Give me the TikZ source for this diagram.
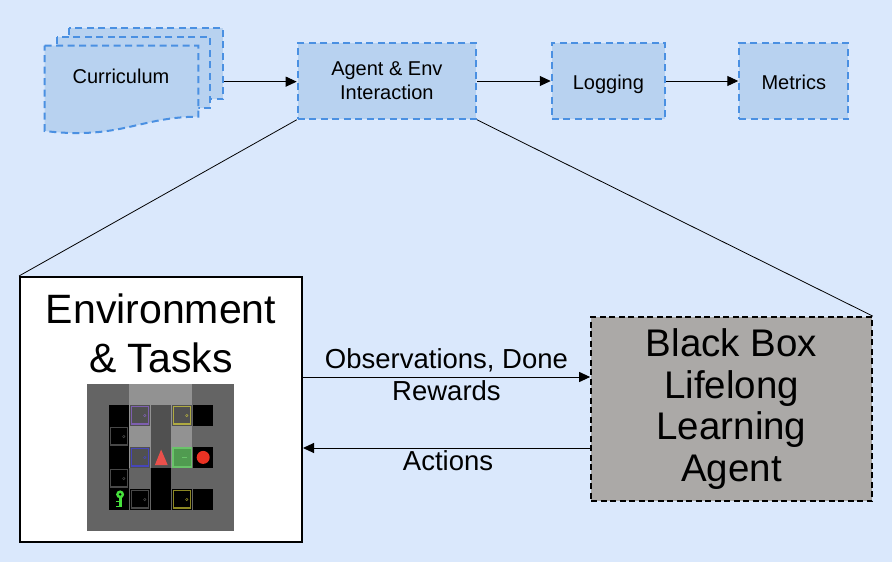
\documentclass[tikz,border=0pt]{standalone}
\usepackage{fontspec}
\setmainfont{Liberation Sans}
\usetikzlibrary{arrows.meta}
\definecolor{bgblue}{HTML}{DAE8FC}
\definecolor{boxfill}{HTML}{B8D2F0}
\definecolor{boxline}{HTML}{4A90E2}
\definecolor{bbfill}{HTML}{ABA9A7}
\definecolor{mgbg}{RGB}{100,100,100}
\definecolor{mghl}{RGB}{146,146,146}
\definecolor{mgdark}{RGB}{80,80,80}
\definecolor{mgpurple}{RGB}{125,95,175}
\definecolor{mgyellowhl}{RGB}{175,170,65}
\definecolor{mgyellow}{RGB}{140,135,35}
\definecolor{mgblue}{RGB}{70,70,185}
\definecolor{mggreen}{RGB}{105,195,105}
\definecolor{mggreenfill}{RGB}{80,155,80}
\definecolor{mggrey}{RGB}{72,72,72}
\definecolor{mgkey}{RGB}{70,225,60}
\definecolor{mgred}{RGB}{235,50,35}
\definecolor{mgagent}{RGB}{235,80,75}
\newcommand{\mgtile}[3]{\fill[#3] ({87.3+21*#1+0.7},{383.5+21*#2+0.7}) rectangle ++(20.3,20.3);}
\newcommand{\mgdoor}[4]{\mgtile{#1}{#2}{#4}
  \draw[#3,line width=1.3pt] ({87.3+21*#1+2.2},{383.5+21*#2+2.2}) rectangle ++(17.3,17.3);
  \draw[#3,line width=0.5pt] ({87.3+21*#1+15.5},{383.5+21*#2+11}) circle[radius=1.2];}
\begin{document}
\begin{tikzpicture}[x=1pt,y=-1pt,
  flowbox/.style={draw=boxline, fill=boxfill, line width=2pt, dash pattern=on 7pt off 4.5pt, inner sep=0pt, font=\fontsize{20}{24}\selectfont, align=center},
  sheet/.style={draw=boxline, fill=boxfill, line width=2pt, dash pattern=on 7pt off 4.5pt},
  conn/.style={draw=black, line width=1pt, -{Triangle[length=11pt,width=10pt]}},
  zoomline/.style={draw=black, line width=0.8pt},
  lbl/.style={font=\fontsize{27.5}{32}\selectfont, align=center, inner sep=0pt},
]
\fill[bgblue] (0,0) rectangle (892,562);
\useasboundingbox (0,0) rectangle (892,562);

% curriculum (multiple documents)
\path[sheet] (69.3,28.3) rectangle (223.3,99.3);
\path[sheet] (57.3,36.7) rectangle (210,108.3);
\path[sheet] (44.7,45.7) -- (198.3,45.7) -- (198.3,116.7) .. controls (140,116.7) and (120,140) .. (44.7,131) -- cycle;
\node[inner sep=0pt, minimum width=178.6pt, minimum height=106.7pt] (curr) at (134,81.65) {};
\node[font=\fontsize{20}{24}\selectfont, anchor=base, inner sep=0pt] (currlbl) at (121,83) {Curriculum};

% top flow boxes
\node[flowbox, minimum width=178.3pt, minimum height=75.6pt] (agent) at (386.85,81) {Agent \& Env\\Interaction};
\node[flowbox, minimum width=113.3pt, minimum height=76pt, text height=16pt, text depth=0pt] (log) at (608.4,81) {Logging};
\node[flowbox, minimum width=109pt, minimum height=76pt, text height=16pt, text depth=0pt] (met) at (793.8,81) {Metrics};

\draw[conn] (curr.east) -- (curr.east -| agent.west);
\draw[conn] (agent.east) -- (log.west);
\draw[conn] (log.east) -- (met.west);

% environment box
\node[draw=black, fill=white, line width=2pt, minimum width=282pt, minimum height=265pt, inner sep=0pt] (env) at (161,409.5) {};
\node[font=\fontsize{41}{49}\selectfont, align=center, inner sep=0pt] (envlbl) at (161,333.1) {Environment\\\& Tasks};

% black box agent
\node[draw=black, fill=bbfill, line width=1.7pt, dash pattern=on 6pt off 3.5pt, minimum width=281pt, minimum height=184pt, inner sep=0pt, font=\fontsize{38.5}{41.7}\selectfont, align=center] (bb) at (731.5,409) {Black Box\\Lifelong\\Learning\\Agent};

% zoom lines
\draw[zoomline] (agent.south west) -- (env.north west);
\draw[zoomline] (agent.south east) -- (bb.north east);

% interaction arrows
\coordinate (obsy) at (446.5,377);
\coordinate (acty) at (446.5,448);
\draw[conn] (env.east |- obsy) -- (bb.west |- obsy);
\draw[conn] (bb.west |- acty) -- (env.east |- acty);
\node[lbl] (obslbl) at (446.5,375) {Observations, Done\\Rewards};
\node[lbl, anchor=base] (actlbl) at (448,470) {Actions};

% minigrid picture
\fill[mgbg] (87.3,383.5) rectangle (234.3,530.5);
\fill[mghl] (129.3,383.5) rectangle (192.3,467.5);
\foreach \c/\r in {1/1,5/1,1/3,5/3,3/4,1/5,3/5,5/5} {\mgtile{\c}{\r}{black}}
\foreach \c/\r in {3/1,3/2,3/3} {\mgtile{\c}{\r}{mgdark}}
\mgdoor{2}{1}{mgpurple}{mgdark}
\mgdoor{4}{1}{mgyellowhl}{mgdark}
\mgdoor{2}{3}{mgblue}{mgdark}
\mgdoor{1}{2}{mggrey}{black}
\mgdoor{1}{4}{mggrey}{black}
\mgdoor{2}{5}{mggrey}{black}
\mgdoor{4}{5}{mgyellow}{black}
\mgtile{4}{3}{mggreen}
\fill[mggreenfill] ({87.3+84+2.2},{383.5+63+2.2}) rectangle ++(17.3,17.3);
\draw[mggreen, line width=1.2pt] ({87.3+84+11},{383.5+63+11.2}) -- ++(4.8,0);
% ball
\fill[mgred] (203.2,457.4) circle[radius=6.5];
% agent
\fill[mgagent] (161.1,449.5) -- (167.7,465) -- (154.9,465) -- cycle;
% key
\fill[mgkey] (118.8,495) rectangle (121.5,507);
\fill[mgkey] (116.3,500.9) rectangle (118.8,502.4);
\fill[mgkey] (116.3,505.5) rectangle (118.8,507);
\fill[mgkey] (120.1,494.4) circle[radius=4];
\fill[black] (120.1,494.4) circle[radius=1.4];
\end{tikzpicture}
\end{document}
